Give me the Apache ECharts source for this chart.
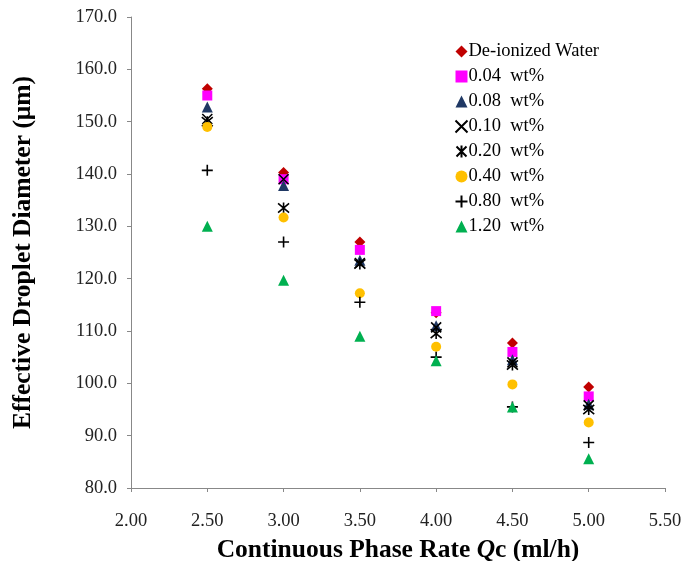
<!DOCTYPE html>
<html>
<head>
<meta charset="utf-8">
<script src="https://cdn.jsdelivr.net/npm/echarts@6/dist/echarts.min.js"></script>
<style>html,body{margin:0;padding:0;background:#fff}#c{width:688px;height:561px}</style>
</head>
<body>
<div id="c"></div>
<script>
const xValues = [2.5, 3.0, 3.5, 4.0, 4.5, 5.0];
const seriesNames = ['De-ionized Water', '0.04  wt%', '0.08  wt%', '0.10  wt%', '0.20  wt%', '0.40  wt%', '0.80  wt%', '1.20  wt%'];
const deionized = [156.3, 140.3, 127.0, 113.5, 107.7, 99.3];
const wt004 = [155.0, 139.0, 125.5, 113.8, 106.0, 97.5];
const wt008 = [152.8, 137.8, 123.5, 111.0, 104.5, 96.0];
const wt010 = [150.5, 139.0, 123.0, 110.7, 104.0, 95.8];
const wt020 = [150.0, 133.5, 122.8, 109.5, 103.5, 95.0];
const wt040 = [149.0, 131.7, 117.2, 107.0, 99.8, 92.5];
const wt080 = [140.7, 127.0, 115.5, 105.0, 95.5, 88.7];
const wt120 = [130.0, 119.7, 109.0, 104.3, 95.5, 85.6];

const allValues = [deionized, wt004, wt008, wt010, wt020, wt040, wt080, wt120];
const colors = ['#C00000', '#FF00FF', '#1F3864', '#000000', '#000000', '#FFC000', '#000000', '#00B050'];
const symbols = ['diamond', 'rect', 'triangle',
  'path://M0,0L10,10M10,0L0,10',
  'path://M0,0L10,10M10,0L0,10M5,-1L5,11',
  'circle',
  'path://M5,0L5,10M0,5L10,5',
  'triangle'];
const sizes = [11, 10, 11, 10, 11, 10, 11, 11];
const strokeOnly = [false, false, false, true, true, false, true, false];

const series = allValues.map((vals, i) => ({
  name: seriesNames[i],
  type: 'scatter',
  data: xValues.map((x, j) => [x, vals[j]]),
  symbol: symbols[i],
  symbolSize: sizes[i],
  itemStyle: strokeOnly[i]
    ? { color: 'none', borderColor: colors[i], borderWidth: 1.6, opacity: 1 }
    : { color: colors[i], opacity: 1 },
  emphasis: { disabled: true }
}));

const chart = echarts.init(document.getElementById('c'), null, { renderer: 'canvas' });
chart.setOption({
  animation: false,
  backgroundColor: '#fff',
  grid: { left: 131, right: 23, top: 17, bottom: 73, containLabel: false, outerBoundsMode: 'none' },
  legend: {
    orient: 'vertical',
    left: 448, top: 37,
    itemWidth: 12, itemHeight: 12, itemGap: 6,
    textStyle: { fontFamily: 'Liberation Serif', fontSize: 18.5, lineHeight: 19, color: '#000', padding: [0, 0, 0, -4] },
    data: seriesNames
  },
  xAxis: {
    type: 'value', min: 2.0, max: 5.5, interval: 0.5,
    axisLine: { show: true, lineStyle: { color: '#888' } },
    axisTick: { show: true, inside: false, length: 4, lineStyle: { color: '#888' } },
    splitLine: { show: false },
    axisLabel: { fontFamily: 'Liberation Serif', fontSize: 18.5, color: '#222', margin: 24,
      formatter: v => v.toFixed(2) },
    name: 'Continuous Phase Rate {i|Q}c (ml/h)',
    nameLocation: 'middle', nameGap: 49,
    nameTextStyle: { fontFamily: 'Liberation Serif', fontSize: 25.5, fontWeight: 'bold', color: '#000',
      rich: { i: { fontFamily: 'Liberation Serif', fontSize: 25.5, fontWeight: 'bold', fontStyle: 'italic', color: '#000' } } }
  },
  yAxis: {
    type: 'value', min: 80, max: 170, interval: 10,
    axisLine: { show: true, lineStyle: { color: '#888' } },
    axisTick: { show: true, inside: false, length: 4, lineStyle: { color: '#888' } },
    splitLine: { show: false },
    axisLabel: { fontFamily: 'Liberation Serif', fontSize: 18.5, color: '#222', margin: 14,
      formatter: v => v.toFixed(1) },
    name: 'Effective Droplet Diameter (μm)',
    nameLocation: 'middle', nameGap: 95, nameRotate: 90,
    nameTextStyle: { fontFamily: 'Liberation Serif', fontSize: 25.5, fontWeight: 'bold', color: '#000' }
  },
  series: series
});
</script>
</body>
</html>
